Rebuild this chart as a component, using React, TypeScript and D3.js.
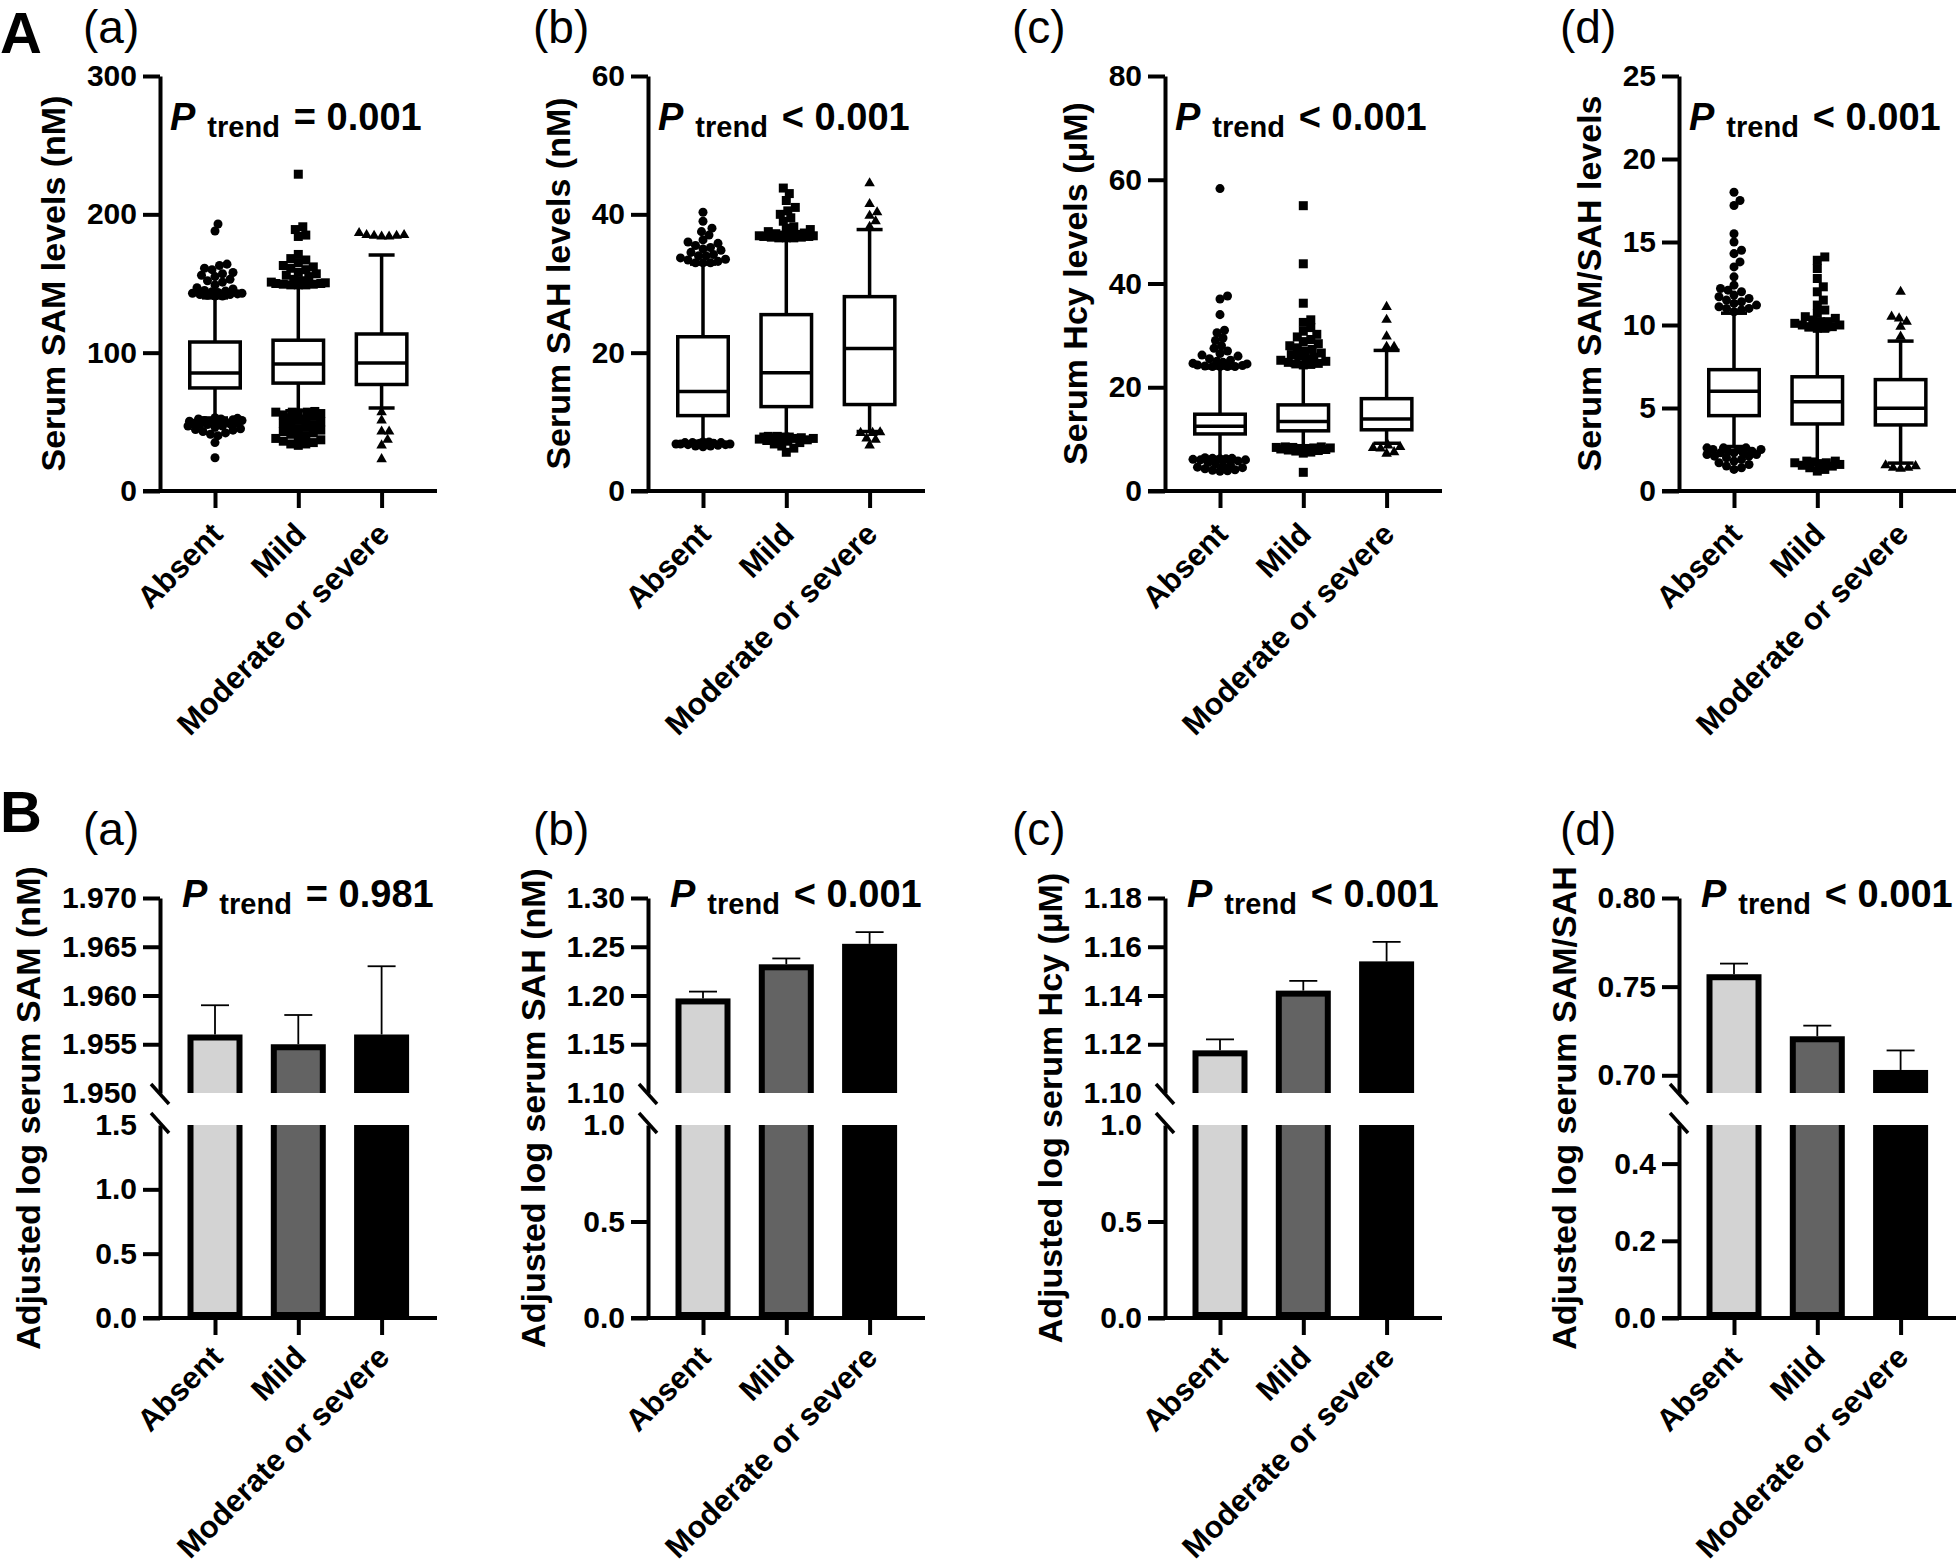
import React, { useRef, useEffect } from 'react';
import * as d3 from 'd3';

const WIDTH = 1960;
const HEIGHT = 1567;
const FONT = '"Liberation Sans", Arial, Helvetica, sans-serif';

const categories = ['Absent', 'Mild', 'Moderate or severe'];

// ---- Panel A box plots: [lower whisker, Q1, median, Q3, upper whisker] per group
const samBox = [[52.8, 74.5, 85.3, 107.7, 139.6], [58, 78, 91.8, 109, 149.7], [60, 77, 92.6, 113.5, 170.6]];
const sahBox = [[7.2, 10.9, 14.4, 22.3, 32.8], [7.9, 12.2, 17.1, 25.5, 36.7], [8.6, 12.5, 20.6, 28.1, 37.8]];
const hcyBox = [[6.5, 11.0, 12.5, 14.8, 23.7], [8.6, 11.6, 13.4, 16.6, 24.2], [9.2, 11.8, 13.9, 17.8, 27.1]];
const ratioBox = [[2.68, 4.54, 6.01, 7.31, 10.71], [1.78, 4.04, 5.38, 6.88, 9.71], [1.68, 3.98, 4.98, 6.71, 9.03]];

const samOutliers = [
  [141, 141, 141.5, 142, 142, 142.5, 143, 143, 143.5, 144, 144.5, 145, 146, 147, 149, 151, 152, 153, 155, 156, 157, 158, 160, 161, 163, 164, 188, 193,
    53, 52.5, 52, 52, 51.5, 51, 51, 50.5, 50, 50, 49.5, 49, 49, 48.5, 48, 48, 47, 47, 46, 45, 44.5, 44, 43, 42, 41, 40, 35, 24],
  [149, 149, 149, 149.5, 149.5, 150, 150, 150.5, 151, 152, 153, 155, 156, 157, 158, 160, 161, 162, 163, 165, 167, 168, 171, 184, 185, 189, 191, 229,
    57.5, 57, 57, 57, 56.5, 56, 55, 54, 53, 52, 51, 50, 49, 48, 47, 46, 45, 44, 43, 42, 41, 40, 39, 38, 37, 36, 35, 34, 34, 33],
  [184, 184, 184.5, 184.5, 185, 185, 186.5, 57, 51, 43, 43, 37, 33, 23],
];
const sahOutliers = [
  [33, 33, 33, 33.2, 33.4, 33.5, 33.7, 34, 34, 34.2, 34.5, 34.8, 35, 35.2, 35.5, 35.8, 36, 36.3, 37, 37.5, 38, 39, 40.3,
    7.1, 7.1, 7, 7, 7, 6.9, 6.9, 6.9, 6.8, 6.8, 6.8, 6.7, 6.7, 6.6, 6.5, 6.5, 6.4],
  [36.6, 36.6, 36.6, 36.7, 36.7, 36.8, 36.8, 36.9, 36.9, 37, 37, 37.1, 37.2, 37.3, 37.5, 37.8, 38, 38.2, 39, 39.5, 40, 40.5, 41, 42, 43, 43.8,
    7.9, 7.9, 7.8, 7.8, 7.8, 7.7, 7.7, 7.6, 7.6, 7.5, 7.5, 7.4, 7.3, 7.2, 7, 6.8, 6.5, 6.2, 5.6],
  [38.2, 39, 39.8, 40.3, 41.5, 44.5, 8.5, 8.4, 8.4, 7.6, 7.4, 6.6],
];
const hcyOutliers = [
  [24, 24, 24, 24, 24.1, 24.2, 24.3, 24.5, 24.6, 24.8, 25, 25.2, 25.5, 26, 26.2, 26.5, 27, 27.5, 28, 29, 29.5, 30.5, 31, 34, 37, 37.6, 58.3,
    6.4, 6.3, 6.3, 6.2, 6.2, 6.1, 6, 6, 5.8, 5.5, 5.2, 5, 4.8, 4.6, 4.5, 4.3, 4.1, 4, 3.9, 3.8],
  [24.3, 24.4, 24.5, 24.6, 24.8, 25, 25.2, 25.5, 25.8, 26, 26.3, 26.6, 27, 27.3, 27.6, 28, 28.4, 28.8, 29.2, 29.7, 30.2, 30.8, 31.5, 32.5, 33, 36.2, 43.8, 55,
    8.5, 8.5, 8.4, 8.4, 8.3, 8.3, 8.2, 8.2, 8.1, 8, 7.9, 7.8, 7.7, 7.5, 7.3, 3.6],
  [27.8, 27.8, 29.8, 33, 35.5, 8.8, 8.5, 8.3, 8.2, 7.5, 7.2],
];
const ratioOutliers = [
  [10.8, 10.9, 11, 11, 11.1, 11.2, 11.3, 11.4, 11.5, 11.6, 11.7, 11.8, 12, 12.1, 12.2, 12.4, 12.9, 13.5, 13.8, 14.3, 14.5, 15, 15.5, 17.2, 17.5, 18,
    2.6, 2.6, 2.6, 2.5, 2.5, 2.5, 2.4, 2.4, 2.3, 2.3, 2.3, 2.2, 2.2, 2.1, 2.1, 2, 1.9, 1.8, 1.7, 1.6, 1.5, 1.4, 1.3],
  [9.8, 9.8, 9.9, 9.9, 10, 10, 10.1, 10.2, 10.2, 10.3, 10.4, 10.5, 10.7, 10.9, 11.2, 11.5, 12, 12.3, 12.8, 13.4, 13.9, 14.1,
    1.8, 1.8, 1.75, 1.7, 1.7, 1.65, 1.6, 1.55, 1.5, 1.4, 1.3, 1.2],
  [9.3, 9.9, 10.2, 10.4, 10.5, 12, 1.55, 1.5, 1.4, 1.4, 1.35],
];

// ---- Panel B bar charts: adjusted log means and top of error bar
const samAdjMean = [1.956, 1.955, 1.956];
const samAdjUpper = [1.959, 1.958, 1.963];
const sahAdjMean = [1.197, 1.232, 1.253];
const sahAdjUpper = [1.204, 1.238, 1.265];
const hcyAdjMean = [1.1175, 1.142, 1.154];
const hcyAdjUpper = [1.122, 1.146, 1.162];
const ratioAdjMean = [0.757, 0.722, 0.703];
const ratioAdjUpper = [0.763, 0.728, 0.714];

const panelsA = [
  { tag: '(a)', title: 'Serum SAM levels (nM)', max: 300, ticks: [0, 100, 200, 300], box: samBox, outliers: samOutliers, op: '=', p: '0.001' },
  { tag: '(b)', title: 'Serum SAH levels (nM)', max: 60, ticks: [0, 20, 40, 60], box: sahBox, outliers: sahOutliers, op: '<', p: '0.001' },
  { tag: '(c)', title: 'Serum Hcy levels (μM)', max: 80, ticks: [0, 20, 40, 60, 80], box: hcyBox, outliers: hcyOutliers, op: '<', p: '0.001' },
  { tag: '(d)', title: 'Serum SAM/SAH levels', max: 25, ticks: [0, 5, 10, 15, 20, 25], box: ratioBox, outliers: ratioOutliers, op: '<', p: '0.001' },
];

const panelsB = [
  { tag: '(a)', title: 'Adjusted log serum SAM (nM)', upper: [1.95, 1.97], upperTicks: [1.95, 1.955, 1.96, 1.965, 1.97], upperFmt: '.3f',
    lower: [0, 1.5], lowerTicks: [0, 0.5, 1.0, 1.5], means: samAdjMean, errs: samAdjUpper, op: '=', p: '0.981' },
  { tag: '(b)', title: 'Adjusted log serum SAH (nM)', upper: [1.10, 1.30], upperTicks: [1.10, 1.15, 1.20, 1.25, 1.30], upperFmt: '.2f',
    lower: [0, 1.0], lowerTicks: [0, 0.5, 1.0], means: sahAdjMean, errs: sahAdjUpper, op: '<', p: '0.001' },
  { tag: '(c)', title: 'Adjusted log serum Hcy (μM)', upper: [1.10, 1.18], upperTicks: [1.10, 1.12, 1.14, 1.16, 1.18], upperFmt: '.2f',
    lower: [0, 1.0], lowerTicks: [0, 0.5, 1.0], means: hcyAdjMean, errs: hcyAdjUpper, op: '<', p: '0.001' },
  { tag: '(d)', title: 'Adjusted log serum SAM/SAH', upper: [0.69, 0.80], upperTicks: [0.70, 0.75, 0.80], upperFmt: '.2f',
    lower: [0, 0.5], lowerTicks: [0, 0.2, 0.4], means: ratioAdjMean, errs: ratioAdjUpper, op: '<', p: '0.001' },
];

// layout
const axisXs = [160, 648, 1165, 1679];
const tagXs = [83, 533, 1012, 1560];
const rowA = { top: 76, bottom: 491, tagY: 43, pY: 130, labelDy: 45 };
const rowB = { upTop: 898, upBottom: 1093, lowTop: 1125, lowBottom: 1318, tagY: 845, pY: 907, labelDy: 41 };
const barFills = ['#d3d3d3', '#636363', '#000000'];
const symbolTypes = [d3.symbolCircle, d3.symbolSquare, d3.symbolTriangle];
const symbolSizes = [64, 81, 48];

function styleAxis(g: any) {
  g.attr('font-family', FONT).attr('font-size', 30).attr('font-weight', 'bold');
  g.selectAll('.domain').attr('stroke', '#000').attr('stroke-width', 4);
  g.selectAll('.tick line').attr('stroke', '#000').attr('stroke-width', 4);
  g.selectAll('.tick text').attr('fill', '#000');
}

function xScaleFor(axisX: number) {
  return d3.scalePoint<string>().domain(categories).range([axisX + 55, axisX + 221.6]);
}

function drawXAxis(svg: any, x: any, axisX: number, y0: number, labelDy: number) {
  const g = svg.append('g').attr('transform', `translate(0,${y0})`)
    .call(d3.axisBottom(x).tickSize(17).tickSizeOuter(0));
  styleAxis(g);
  g.select('.domain').remove();
  g.selectAll('.tick text')
    .attr('font-size', 31)
    .attr('text-anchor', 'end')
    .attr('x', null).attr('y', null).attr('dy', null)
    .attr('transform', `translate(9,${labelDy}) rotate(-45)`);
  svg.append('line')
    .attr('x1', axisX - 17).attr('x2', axisX + 277)
    .attr('y1', y0).attr('y2', y0)
    .attr('stroke', '#000').attr('stroke-width', 4);
}

function drawYTitle(svg: any, text: string, x: number, cy: number) {
  svg.append('text')
    .attr('transform', `translate(${x},${cy}) rotate(-90)`)
    .attr('text-anchor', 'middle')
    .attr('font-family', FONT).attr('font-size', 34).attr('font-weight', 'bold')
    .attr('fill', '#000')
    .text(text);
}

function drawPTrend(svg: any, x: number, y: number, op: string, p: string) {
  const t = svg.append('text').attr('x', x).attr('y', y)
    .attr('font-family', FONT).attr('font-weight', 'bold').attr('font-size', 38).attr('fill', '#000');
  t.append('tspan').attr('font-style', 'italic').text('P');
  t.append('tspan').attr('dx', 12).attr('dy', 7).attr('font-size', 29).text('trend');
  t.append('tspan').attr('dx', 14).attr('dy', -7).text(`${op} ${p}`);
}

function drawTag(svg: any, x: number, y: number, tag: string) {
  svg.append('text').attr('x', x).attr('y', y)
    .attr('font-family', FONT).attr('font-size', 46).attr('fill', '#000').text(tag);
}

// simple beeswarm: spread outliers sideways so markers do not pile up
function swarm(values: number[], cx: number, y: any, minDist: number, maxHalf: number) {
  const placed: { x: number; y: number }[] = [];
  const offsets: number[] = [0];
  for (let o = 1.5; o <= maxHalf; o += 1.5) offsets.push(o, -o);
  values.slice().sort((a, b) => a - b).forEach(v => {
    const py = y(v);
    let best = offsets[0];
    let bestD = -1;
    for (const o of offsets) {
      const px = cx + o;
      let dmin = Infinity;
      for (const q of placed) dmin = Math.min(dmin, Math.hypot(q.x - px, q.y - py));
      if (dmin >= minDist) { best = o; bestD = Infinity; break; }
      if (dmin > bestD) { bestD = dmin; best = o; }
    }
    placed.push({ x: cx + best, y: py });
  });
  return placed;
}

function drawBoxPanel(svg: any, p: any, axisX: number, tagX: number) {
  const { top, bottom } = rowA;
  const y = d3.scaleLinear().domain([0, p.max]).range([bottom, top]);
  const x = xScaleFor(axisX);

  drawTag(svg, tagX, rowA.tagY, p.tag);

  const yAx = svg.append('g').attr('transform', `translate(${axisX},0)`)
    .call(d3.axisLeft(y).tickValues(p.ticks).tickSize(17).tickSizeOuter(0).tickPadding(6).tickFormat(d3.format('d')));
  styleAxis(yAx);

  const boxW = 54;
  const capW = 26;
  p.box.forEach((b: number[], i: number) => {
    const cx = x(categories[i]) as number;
    const [wl, q1, med, q3, wh] = b;
    const g = svg.append('g').attr('stroke', '#000').attr('stroke-width', 3.5).attr('fill', 'none');
    g.append('line').attr('x1', cx).attr('x2', cx).attr('y1', y(wh)).attr('y2', y(q3));
    g.append('line').attr('x1', cx).attr('x2', cx).attr('y1', y(q1)).attr('y2', y(wl));
    g.append('line').attr('x1', cx - capW / 2).attr('x2', cx + capW / 2).attr('y1', y(wh)).attr('y2', y(wh));
    g.append('line').attr('x1', cx - capW / 2).attr('x2', cx + capW / 2).attr('y1', y(wl)).attr('y2', y(wl));
    g.append('rect').attr('x', cx - boxW / 2 + 1.75).attr('width', boxW - 3.5)
      .attr('y', y(q3)).attr('height', y(q1) - y(q3)).attr('fill', '#fff');
    g.append('line').attr('x1', cx - boxW / 2 + 1.75).attr('x2', cx + boxW / 2 - 1.75).attr('y1', y(med)).attr('y2', y(med));

    const pts = swarm(p.outliers[i], cx, y, 7.5, 28);
    const sym = d3.symbol().type(symbolTypes[i]).size(symbolSizes[i]);
    svg.append('g').selectAll('path').data(pts).join('path')
      .attr('d', sym as any)
      .attr('transform', (d: any) => `translate(${d.x},${d.y})`)
      .attr('fill', '#000');
  });

  drawXAxis(svg, x, axisX, bottom, rowA.labelDy);

  const bb = (yAx.node() as SVGGElement).getBBox();
  drawYTitle(svg, p.title, axisX + bb.x - 22, (top + bottom) / 2);
  drawPTrend(svg, axisX + 10, rowA.pY, p.op, p.p);
}

function drawBarPanel(svg: any, p: any, axisX: number, tagX: number, idx: number) {
  const { upTop, upBottom, lowTop, lowBottom } = rowB;
  const yU = d3.scaleLinear().domain(p.upper).range([upBottom, upTop]);
  const yL = d3.scaleLinear().domain(p.lower).range([lowBottom, lowTop]);
  const x = xScaleFor(axisX);
  const barW = 55;
  const sw = 6;

  drawTag(svg, tagX, rowB.tagY, p.tag);

  const cu = `clip-b${idx}-u`;
  const cl = `clip-b${idx}-l`;
  const defs = svg.append('defs');
  defs.append('clipPath').attr('id', cu).append('rect')
    .attr('x', axisX).attr('y', upTop - 20).attr('width', 320).attr('height', upBottom - upTop + 20);
  defs.append('clipPath').attr('id', cl).append('rect')
    .attr('x', axisX).attr('y', lowTop).attr('width', 320).attr('height', lowBottom - lowTop + 5);

  const gU = svg.append('g').attr('clip-path', `url(#${cu})`);
  const gL = svg.append('g').attr('clip-path', `url(#${cl})`);
  p.means.forEach((m: number, i: number) => {
    const cx = x(categories[i]) as number;
    gU.append('rect')
      .attr('x', cx - barW / 2 + sw / 2).attr('width', barW - sw)
      .attr('y', yU(m) + sw / 2).attr('height', upBottom + 20 - yU(m))
      .attr('fill', barFills[i]).attr('stroke', '#000').attr('stroke-width', sw);
    gL.append('rect')
      .attr('x', cx - barW / 2 + sw / 2).attr('width', barW - sw)
      .attr('y', lowTop - 20).attr('height', yL(0) - sw / 2 - (lowTop - 20))
      .attr('fill', barFills[i]).attr('stroke', '#000').attr('stroke-width', sw);
    // error bar (upper only)
    const eg = svg.append('g').attr('stroke', '#000').attr('stroke-width', 1.8);
    eg.append('line').attr('x1', cx).attr('x2', cx).attr('y1', yU(m)).attr('y2', yU(p.errs[i]));
    eg.append('line').attr('x1', cx - 14).attr('x2', cx + 14).attr('y1', yU(p.errs[i])).attr('y2', yU(p.errs[i]));
  });

  const fmtU = d3.format(p.upperFmt);
  const fmtL = d3.format('.1f');
  const axU = svg.append('g').attr('transform', `translate(${axisX},0)`)
    .call(d3.axisLeft(yU).tickValues(p.upperTicks).tickSize(17).tickSizeOuter(0).tickPadding(6).tickFormat((d: any) => fmtU(d)));
  const axL = svg.append('g').attr('transform', `translate(${axisX},0)`)
    .call(d3.axisLeft(yL).tickValues(p.lowerTicks).tickSize(17).tickSizeOuter(0).tickPadding(6).tickFormat((d: any) => fmtL(d)));
  styleAxis(axU);
  styleAxis(axL);
  // no tick marks where the axis is broken
  axU.selectAll('.tick').filter((d: any) => Math.abs(d - p.upper[0]) < 1e-9).select('line').remove();
  axL.selectAll('.tick').filter((d: any) => Math.abs(d - p.lower[1]) < 1e-9).select('line').remove();

  // break marks
  [upBottom + 1, lowTop - 2].forEach(yy => {
    svg.append('line')
      .attr('x1', axisX - 9).attr('y1', yy - 10).attr('x2', axisX + 9).attr('y2', yy + 10)
      .attr('stroke', '#000').attr('stroke-width', 3.5);
  });

  drawXAxis(svg, x, axisX, lowBottom, rowB.labelDy);

  const b1 = (axU.node() as SVGGElement).getBBox();
  const b2 = (axL.node() as SVGGElement).getBBox();
  drawYTitle(svg, p.title, axisX + Math.min(b1.x, b2.x) - 22, (upTop + lowBottom) / 2);
  drawPTrend(svg, axisX + 22, rowB.pY, p.op, p.p);
}

const App = () => {
  const svgRef = useRef<SVGSVGElement>(null);

  useEffect(() => {
    const svg = d3.select(svgRef.current);
    svg.selectAll('*').remove();
    svg.append('rect').attr('width', WIDTH).attr('height', HEIGHT).attr('fill', '#fff');

    svg.append('text').attr('x', 0).attr('y', 53)
      .attr('font-family', FONT).attr('font-size', 58).attr('font-weight', 'bold').text('A');
    svg.append('text').attr('x', 0).attr('y', 832)
      .attr('font-family', FONT).attr('font-size', 58).attr('font-weight', 'bold').text('B');

    panelsA.forEach((p, i) => drawBoxPanel(svg, p, axisXs[i], tagXs[i]));
    panelsB.forEach((p, i) => drawBarPanel(svg, p, axisXs[i], tagXs[i], i));
  }, []);

  return (
    <div style={{ position: 'absolute', left: 0, top: 0, width: WIDTH, height: HEIGHT, background: '#fff' }}>
      <svg ref={svgRef} width={WIDTH} height={HEIGHT} style={{ display: 'block' }} />
    </div>
  );
};

export default App;
